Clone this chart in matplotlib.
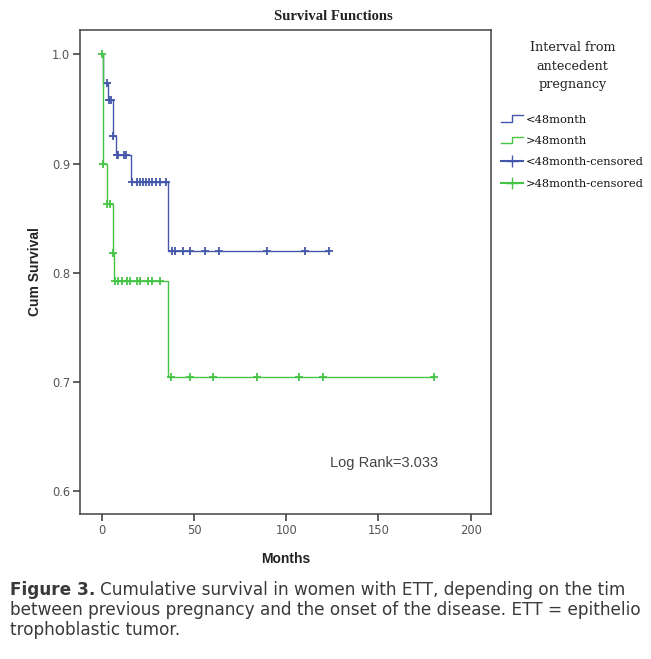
import matplotlib as mpl
mpl.use('Agg')
import matplotlib.pyplot as plt
import numpy as np
from matplotlib.legend_handler import HandlerBase
from matplotlib.lines import Line2D

# Kaplan-Meier steps: time of each drop and survival after it (last point = end of follow-up)
lt48_times = [0, 0.5, 3.5, 6, 7.7, 15.7, 35.8, 123]
lt48_surv = [1.0, 0.974, 0.958, 0.925, 0.908, 0.883, 0.820, 0.820]
lt48_censored = [2.7, 4, 5, 6.3, 8, 9, 12, 13, 16.3, 19, 20.8, 22.5, 24, 25.8, 27.1,
                 29.3, 31.6, 34.8, 38, 39.6, 44.2, 47.8, 56, 63.7, 89.4, 110, 123]

gt48_times = [0, 0.4, 2.7, 6, 6.7, 35.8, 180]
gt48_surv = [1.0, 0.900, 0.863, 0.818, 0.793, 0.705, 0.705]
gt48_censored = [0, 0.9, 2.7, 4.5, 6, 7.2, 9, 10.8, 13.5, 15.3, 19, 20.8, 25.3, 27.1,
                 31.6, 37.5, 47.8, 60.1, 83.9, 106.9, 120, 180]

x_ticks = [0, 50, 100, 150, 200]
y_ticks = [0.6, 0.7, 0.8, 0.9, 1.0]

legend_labels = ['<48month', '>48month', '<48month-censored', '>48month-censored']
caption_lines = ['Cumulative survival in women with ETT, depending on the tim',
                 'between previous pregnancy and the onset of the disease. ETT = epithelio',
                 'trophoblastic tumor.']

BLUE = '#4457aa'
GREEN = '#45c445'
GREY = '#444444'


#   survival value at time t for a post-step curve
def surv_at(times, surv, t):
    idx = np.searchsorted(times, t, side='right') - 1
    return np.asarray(surv)[idx]


#   legend glyph that looks like the SPSS step icon
class StepHandler(HandlerBase):
    def create_artists(self, legend, orig_handle, xdescent, ydescent, width, height, fontsize, trans):
        xs = np.array([0, 0.5, 0.5, 1.0]) * width - xdescent
        ys = np.array([0.1, 0.1, 0.9, 0.9]) * height - ydescent
        line = Line2D(xs, ys, color=orig_handle.get_color(), lw=1.0, transform=trans)
        return [line]


fig = plt.figure(figsize=(6.51, 6.59), dpi=100)
ax = fig.add_axes([80 / 651, 1 - 514 / 659, 411 / 651, 484 / 659])

for times, surv, cens, col in [(lt48_times, lt48_surv, lt48_censored, BLUE),
                               (gt48_times, gt48_surv, gt48_censored, GREEN)]:
    ax.step(times, surv, where='post', color=col, lw=1.0)
    ax.plot(cens, surv_at(times, surv, cens), linestyle='none', marker='+',
            markersize=6, mew=1.3, color=col)

ax.set_xlim(-11.8, 211)
ax.set_ylim(0.5794, 1.0224)
ax.set_xticks(x_ticks)
ax.set_yticks(y_ticks)
ax.set_xticklabels([str(v) for v in x_ticks])
ax.set_yticklabels(['%.1f' % v for v in y_ticks])
ax.tick_params(direction='out', length=5, width=1.2, colors=GREY, labelsize=8.3,
               labelcolor='#555555', pad=2)
for sp in ax.spines.values():
    sp.set_color(GREY)
    sp.set_linewidth(1.1)

ax.set_xlabel('Months', fontsize=10, fontweight='bold', family='Liberation Sans',
              labelpad=11, color='#222222')
ax.set_ylabel('Cum Survival', fontsize=10, fontweight='bold', family='Liberation Sans',
              labelpad=7, color='#222222')
fig.text(333 / 651, 1 - 16 / 659, 'Survival Functions', fontsize=10.5, fontweight='bold',
         family='Liberation Serif', color='#222222', ha='center', va='center')

ax.text(123.5, 0.626, 'Log Rank=3.033', fontsize=10.5, family='Liberation Sans',
        color=GREY, va='center')

handles = [Line2D([], [], color=BLUE), Line2D([], [], color=GREEN),
           Line2D([], [], color=BLUE, marker='+', markersize=9, mew=1.0),
           Line2D([], [], color=GREEN, marker='+', markersize=9, mew=1.0)]
leg = fig.legend(handles, legend_labels, loc='upper left',
                 bbox_to_anchor=(501 / 651, 1 - 41 / 659),
                 frameon=False, numpoints=1, handlelength=1.93, handletextpad=0.26,
                 labelspacing=1.0, borderaxespad=0, borderpad=0,
                 title='Interval from\nantecedent\npregnancy', alignment='center',
                 prop={'family': 'DejaVu Serif', 'size': 8.2},
                 title_fontproperties={'family': 'DejaVu Serif', 'size': 9.2},
                 handler_map={handles[0]: StepHandler(), handles[1]: StepHandler()})
leg.get_title().set_multialignment('center')
leg.get_title().set_linespacing(1.55)
leg.get_title().set_color('#222222')
for txt in leg.get_texts():
    txt.set_color('#111111')
leg._legend_box.sep = 17

# caption under the chart
cap_col = '#3a3a3a'
cap_size = 12.2
cap_x = 10 / 651
t1 = fig.text(cap_x, 1 - 595 / 659, 'Figure 3.', fontsize=cap_size, fontweight='bold',
              family='DejaVu Sans', color=cap_col, va='baseline')
fig.canvas.draw()
bb = t1.get_window_extent()
fig.text(bb.x1 / fig.bbox.width + 5 / 651, 1 - 595 / 659, caption_lines[0],
         fontsize=cap_size, family='DejaVu Sans', color=cap_col, va='baseline')
fig.text(cap_x, 1 - 615 / 659, caption_lines[1],
         fontsize=cap_size, family='DejaVu Sans', color=cap_col, va='baseline')
fig.text(cap_x, 1 - 635 / 659, caption_lines[2],
         fontsize=cap_size, family='DejaVu Sans', color=cap_col, va='baseline')

fig.savefig('out.png', dpi=100)
